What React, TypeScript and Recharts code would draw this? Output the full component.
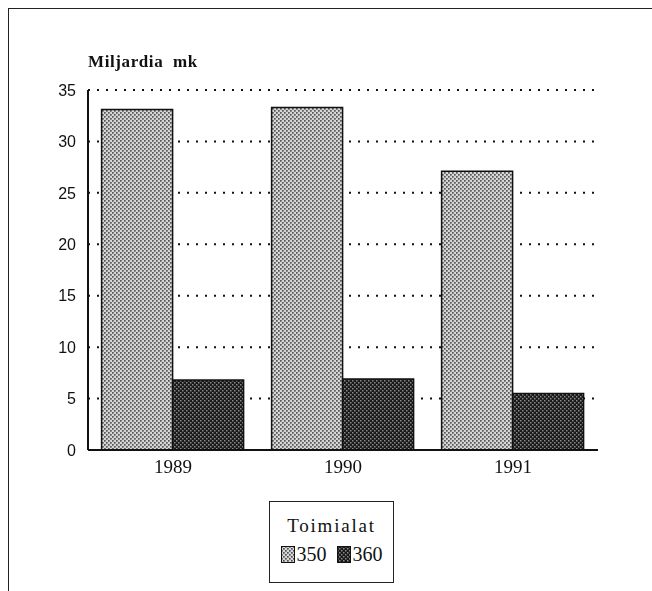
import React from "react";
import { BarChart, Bar, XAxis, YAxis, CartesianGrid } from "recharts";

const years = ["1989", "1990", "1991"];
const series350 = [33.1, 33.3, 27.1];
const series360 = [6.8, 6.9, 5.5];
const seriesNames = ["350", "360"];
const yTicks = [0, 5, 10, 15, 20, 25, 30, 35];
const yLabel = "Miljardia  mk";
const legendTitle = "Toimialat";

const data = years.map((y, i) => ({ year: y, s350: series350[i], s360: series360[i] }));

const serif = "'Liberation Serif', 'Times New Roman', serif";
const sans = "'Liberation Sans', Arial, sans-serif";

const LegendBox = () => (
  <div
    style={{
      width: 125,
      height: 82,
      border: "1.5px solid #222",
      fontFamily: serif,
      color: "#111",
      boxSizing: "border-box",
      textAlign: "center",
      background: "#fff",
    }}
  >
    <div style={{ fontSize: 19, letterSpacing: 1.8, marginTop: 12, lineHeight: "24px" }}>{legendTitle}</div>
    <div style={{ display: "flex", justifyContent: "center", alignItems: "center", marginTop: 5, fontSize: 20 }}>
      <svg width={14} height={17} style={{ marginRight: 2 }}>
        <rect x={0.5} y={0.5} width={13} height={16} fill="url(#pLight)" stroke="#111" />
      </svg>
      <span style={{ marginRight: 10 }}>{seriesNames[0]}</span>
      <svg width={14} height={17} style={{ marginRight: 2 }}>
        <rect x={0.5} y={0.5} width={13} height={16} fill="url(#pDark)" stroke="#111" />
      </svg>
      <span>{seriesNames[1]}</span>
    </div>
  </div>
);

export default function App() {
  return (
    <div style={{ position: "relative", width: 636, height: 575, background: "#fff" }}>
      <style>{`html, body { overflow: hidden; }`}</style>
      <div
        style={{
          position: "fixed",
          left: 8,
          top: 8,
          width: 700,
          height: 700,
          borderLeft: "1.5px solid #222",
          borderTop: "1.5px solid #222",
          boxSizing: "border-box",
          pointerEvents: "none",
        }}
      />
      <div
        style={{
          position: "absolute",
          left: 80,
          top: 44,
          fontFamily: serif,
          fontSize: 17,
          fontWeight: "bold",
          letterSpacing: 0.6,
          whiteSpace: "pre",
          color: "#111",
        }}
      >
        {yLabel}
      </div>
      <div style={{ position: "absolute", left: 0, top: 0 }}>
        <BarChart
          width={636}
          height={480}
          data={data}
          margin={{ top: 82, right: 46, left: 40, bottom: 8 }}
          barCategoryGap="8%"
          barGap={0}
        >
          <defs>
            <pattern id="pLight" width={4} height={4} patternUnits="userSpaceOnUse">
              <rect width={4} height={4} fill="#d6d6d6" />
              <rect x={0} y={0} width={1.7} height={1.7} fill="#555" />
              <rect x={2} y={2} width={1.7} height={1.7} fill="#555" />
            </pattern>
            <pattern id="pDark" width={4} height={4} patternUnits="userSpaceOnUse">
              <rect width={4} height={4} fill="#1a1a1a" />
              <rect x={0} y={0} width={1.5} height={1.5} fill="#8a8a8a" />
              <rect x={2} y={2} width={1.5} height={1.5} fill="#8a8a8a" />
            </pattern>
          </defs>
          <CartesianGrid
            vertical={false}
            stroke="#111"
            strokeWidth={2}
            strokeDasharray="2 7"
          />
          <XAxis
            dataKey="year"
            height={30}
            tickLine={false}
            tickMargin={4}
            axisLine={{ stroke: "#111", strokeWidth: 2 }}
            tick={{ fill: "#111", fontFamily: serif, fontSize: 19 }}
          />
          <YAxis
            width={40}
            domain={[0, 35]}
            ticks={yTicks}
            interval={0}
            tickLine={false}
            tickMargin={6}
            axisLine={{ stroke: "#111", strokeWidth: 2 }}
            tick={{ fill: "#111", fontFamily: sans, fontSize: 16 }}
          />
          <Bar dataKey="s350" name={seriesNames[0]} fill="url(#pLight)" stroke="#111" strokeWidth={1.5} isAnimationActive={false} />
          <Bar dataKey="s360" name={seriesNames[1]} fill="url(#pDark)" stroke="#111" strokeWidth={1.5} isAnimationActive={false} />
        </BarChart>
      </div>
      <div style={{ position: "absolute", left: 261, top: 493 }}>
        <LegendBox />
      </div>
    </div>
  );
}
